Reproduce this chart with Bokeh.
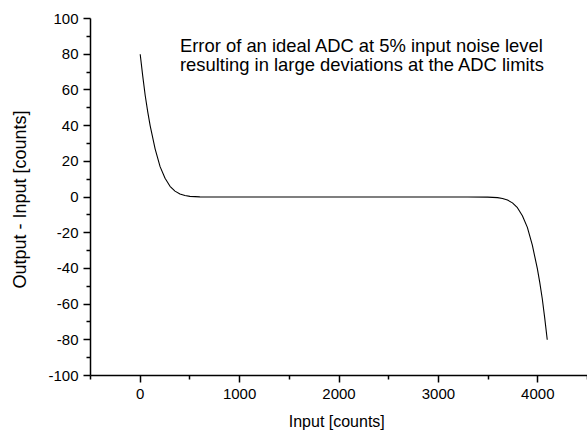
from bokeh.plotting import figure
from bokeh.models import Range1d, Label, FixedTicker, CustomJSTickFormatter
from bokeh.embed import file_html
from bokeh.resources import INLINE

# Data
input_counts = [0, 25, 50, 75, 100, 150, 200, 250, 300, 350, 400, 450, 500, 600,
                800, 1000, 1500, 2000, 2500, 3000, 3295,
                3495, 3595, 3645, 3695, 3745, 3795, 3845, 3895, 3945, 3995,
                4020, 4045, 4070, 4095]
error_counts = [80, 68, 57, 48, 40, 27, 17, 10.5, 6, 3.3, 1.7, 0.8, 0.35, 0.05,
                0, 0, 0, 0, 0, 0, 0,
                -0.05, -0.35, -0.8, -1.7, -3.3, -6, -10.5, -17, -27, -40,
                -48, -57, -68, -80]
x_ticks = [0, 1000, 2000, 3000, 4000]
y_ticks = [-100, -80, -60, -40, -20, 0, 20, 40, 60, 80, 100]
note_lines = ["Error of an ideal ADC at 5% input noise level",
              "resulting in large deviations at the ADC limits"]

FONT = "Liberation Sans"

p = figure(width=587, height=432, output_backend="svg", toolbar_location=None,
           x_range=Range1d(-500, 4500), y_range=Range1d(-100, 100))
p.min_border_left = 90
p.min_border_right = 0
p.min_border_top = 18
p.min_border_bottom = 56
p.outline_line_color = None
p.xgrid.visible = False
p.ygrid.visible = False
p.background_fill_color = "white"
p.border_fill_color = "white"

p.line(input_counts, error_counts, line_color="black", line_width=1.1)

p.xaxis.ticker = FixedTicker(ticks=x_ticks, minor_ticks=[-500, 500, 1500, 2500, 3500, 4500])
p.yaxis.ticker = FixedTicker(ticks=y_ticks, minor_ticks=list(range(-90, 100, 20)))

fmt = CustomJSTickFormatter(code="return tick.toString();")
for ax in (p.xaxis, p.yaxis):
    ax.formatter = fmt
    ax.axis_line_width = 1.5
    ax.axis_line_color = "black"
    ax.major_tick_line_color = "black"
    ax.major_tick_line_width = 1.5
    ax.minor_tick_line_color = "black"
    ax.minor_tick_line_width = 1.5
    ax.major_tick_out = 7
    ax.major_tick_in = 0
    ax.minor_tick_out = 4
    ax.minor_tick_in = 0
    ax.major_label_text_font = FONT
    ax.major_label_text_font_size = "15px"
    ax.major_label_text_color = "black"
    ax.axis_label_text_font = FONT
    ax.axis_label_text_font_style = "normal"
    ax.axis_label_text_color = "black"

p.xaxis.axis_label = "Input  [counts]"
p.yaxis.axis_label = "Output - Input  [counts]"
p.xaxis.axis_label_text_font_size = "16px"
p.yaxis.axis_label_text_font_size = "18px"
p.xaxis.major_label_standoff = 6
p.yaxis.major_label_standoff = 5
p.xaxis.axis_label_standoff = 11
p.yaxis.axis_label_standoff = 15

for i, line in enumerate(note_lines):
    p.add_layout(Label(x=400, y=90.5 - i * 10.6, text=line, text_baseline="top",
                       text_font=FONT, text_font_size="18.4px", text_color="black"))

open("out.html", "w").write(file_html(p, INLINE))
